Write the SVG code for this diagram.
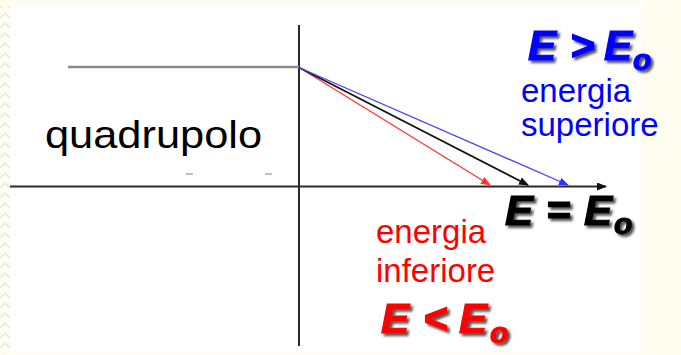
<svg xmlns="http://www.w3.org/2000/svg" width="681" height="355" viewBox="0 0 681 355">
<defs>
<style>
.lbl{font-family:"Liberation Sans",Arial,sans-serif;font-size:33px}
.big{font-family:"Liberation Sans",Arial,sans-serif;font-size:42px;font-weight:bold;font-style:italic;filter:url(#sh);stroke-width:1.2}
.sub{font-size:30px}
.axis{stroke:#2a2a2a;stroke-width:2;fill:none}
</style>
<filter id="sh" x="-10%" y="-10%" width="130%" height="140%">
<feDropShadow dx="2.5" dy="2.5" stdDeviation="1" flood-color="#333" flood-opacity="0.85"/>
</filter>
<marker id="ak" markerWidth="10" markerHeight="8" refX="9" refY="4" orient="auto" markerUnits="userSpaceOnUse"><path d="M0,0 L10,4 L0,8 Z" fill="#111"/></marker>
<marker id="ar" markerWidth="10" markerHeight="8" refX="9" refY="4" orient="auto" markerUnits="userSpaceOnUse"><path d="M0,0 L10,4 L0,8 Z" fill="#f33"/></marker>
<marker id="ab" markerWidth="10" markerHeight="8" refX="9" refY="4" orient="auto" markerUnits="userSpaceOnUse"><path d="M0,0 L10,4 L0,8 Z" fill="#33f"/></marker>
<pattern id="zz" width="10" height="10" patternUnits="userSpaceOnUse"><path d="M0,8 L5,3 L10,8" stroke="#e6e6e6" stroke-width="1.5" fill="none"/></pattern>
</defs>
<rect width="681" height="355" fill="#fffdf0"/>
<rect x="10" y="6" width="631" height="347" fill="#ffffff"/>
<rect x="0" y="6" width="10" height="347" fill="url(#zz)"/>
<g id="axes">
<line class="axis" x1="299" y1="25" x2="299" y2="346"/>
<line class="axis" x1="10" y1="186.5" x2="606" y2="186.5" marker-end="url(#ak)"/>
<line x1="68" y1="67" x2="299" y2="67" stroke="#8a8a8a" stroke-width="2.5"/>
<line x1="186" y1="174" x2="193" y2="174" stroke="#aaa" stroke-width="1.5"/>
<line x1="265" y1="174" x2="272" y2="174" stroke="#aaa" stroke-width="1.5"/>
</g>
<g id="connectors">
<line x1="300" y1="68" x2="490" y2="185" stroke="#f33" stroke-width="1.3" marker-end="url(#ar)"/>
<line x1="300" y1="68" x2="528" y2="185" stroke="#111" stroke-width="1.6" marker-end="url(#ak)"/>
<line x1="300" y1="68" x2="568" y2="185" stroke="#44f" stroke-width="1.3" marker-end="url(#ab)"/>
</g>
<g id="quadrupolo">
<text class="lbl" x="45" y="148" textLength="217" lengthAdjust="spacingAndGlyphs" style="font-size:39px">quadrupolo</text>
</g>
<g id="sup">
<text class="big" y="60" fill="#0000ff" stroke="#0000ff"><tspan x="528">E</tspan><tspan x="570">&gt;</tspan><tspan x="604">E</tspan><tspan class="sub" x="633" y="70">o</tspan></text>
<text class="lbl" x="521" y="102" fill="#0000ff">energia</text>
<text class="lbl" x="521" y="136" fill="#0000ff">superiore</text>
</g>
<g id="eq">
<text class="big" y="225" fill="#000000" stroke="#000000"><tspan x="505">E</tspan><tspan x="546">=</tspan><tspan x="584">E</tspan><tspan class="sub" x="614" y="234">o</tspan></text>
</g>
<g id="inf">
<text class="lbl" x="376" y="243" fill="#ff0000">energia</text>
<text class="lbl" x="376" y="282" fill="#ff0000">inferiore</text>
<text class="big" y="333" fill="#ff0000" stroke="#ff0000"><tspan x="381">E</tspan><tspan x="423">&lt;</tspan><tspan x="459">E</tspan><tspan class="sub" x="490" y="343">o</tspan></text>
</g>
</svg>
